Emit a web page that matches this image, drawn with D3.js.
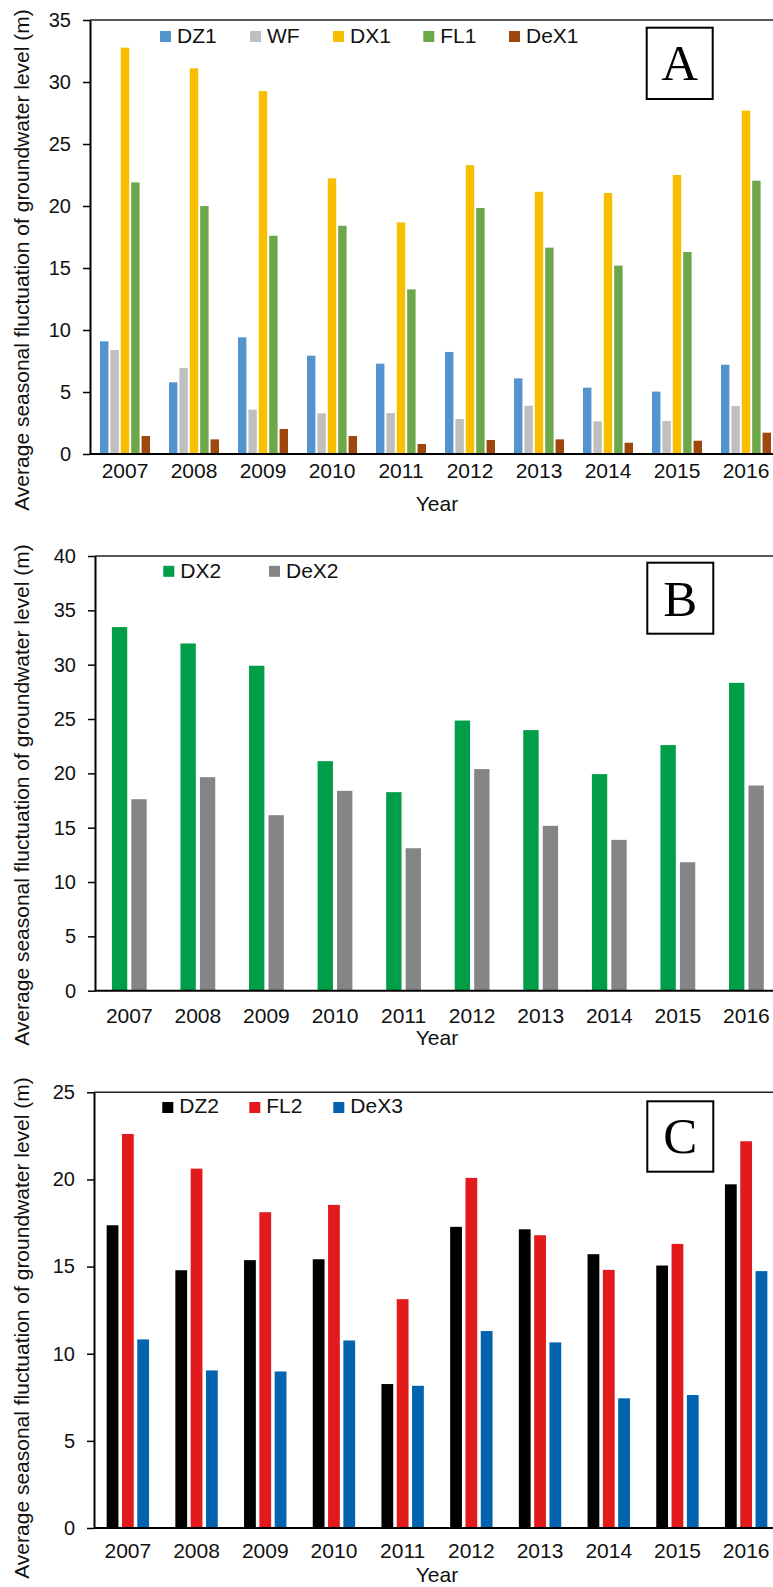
<!DOCTYPE html>
<html>
<head>
<meta charset="utf-8">
<script src="https://cdn.jsdelivr.net/npm/d3@7"></script>
<style>
  html, body { margin: 0; padding: 0; background: #fff; }
  svg { display: block; }
  text { font-family: "Liberation Sans", Arial, sans-serif; fill: #111; }
</style>
</head>
<body>
<svg id="chart" width="773" height="1587"></svg>
<script>
// ---------- DATA ----------
const years = ["2007", "2008", "2009", "2010", "2011", "2012", "2013", "2014", "2015", "2016"];

// Panel A
const seriesA = ["DZ1", "WF", "DX1", "FL1", "DeX1"];
const DZ1  = [9.09, 5.78, 9.41, 7.93, 7.28, 8.23, 6.10, 5.35, 5.03, 7.20];
const WF   = [8.39, 6.94, 3.58, 3.28, 3.30, 2.82, 3.90, 2.63, 2.66, 3.87];
const DX1  = [32.77, 31.10, 29.27, 22.23, 18.68, 23.30, 21.15, 21.05, 22.50, 27.69];
const FL1  = [21.90, 20.00, 17.60, 18.41, 13.28, 19.84, 16.64, 15.19, 16.29, 22.04];
const DeX1 = [1.45, 1.18, 2.02, 1.45, 0.81, 1.13, 1.18, 0.91, 1.07, 1.72];
const ticksA = [0, 5, 10, 15, 20, 25, 30, 35];

// Panel B
const seriesB = ["DX2", "DeX2"];
const DX2  = [33.46, 31.95, 29.90, 21.12, 18.27, 24.86, 23.98, 19.93, 22.60, 28.33];
const DeX2 = [17.62, 19.65, 16.15, 18.39, 13.11, 20.39, 15.17, 13.88, 11.82, 18.88];
const ticksB = [0, 5, 10, 15, 20, 25, 30, 35, 40];

// Panel C
const seriesC = ["DZ2", "FL2", "DeX3"];
const DZ2  = [17.37, 14.79, 15.37, 15.42, 8.26, 17.28, 17.14, 15.71, 15.06, 19.72];
const FL2  = [22.61, 20.62, 18.12, 18.54, 13.13, 20.09, 16.80, 14.81, 16.30, 22.19];
const DeX3 = [10.82, 9.04, 8.98, 10.76, 8.16, 11.30, 10.65, 7.44, 7.63, 14.74];
const ticksC = [0, 5, 10, 15, 20, 25];

const yTitle = "Average seasonal fluctuation of groundwater level (m)";
const xTitle = "Year";

// ---------- STYLE / LAYOUT ----------
const colors = {
  DZ1: "#5394CF", WF: "#BFBFBF", DX1: "#F8BE00", FL1: "#6CA849", DeX1: "#9E480E",
  DX2: "#009E48", DeX2: "#858585",
  DZ2: "#000000", FL2: "#E31A1C", DeX3: "#0463AE"
};

const panels = [
  {
    names: seriesA, values: [DZ1, WF, DX1, FL1, DeX1], ticks: ticksA, max: 35,
    top: 20, bottom: 454, axisX: 90, bandRange: [90.5, 780.5], groupW: 50, pad: 0.19,
    xLabelPad: 9.3, yearBase: 511, titleCenter: 260,
    legendY: 36.5, legendBase: 43.3, legendX: [160, 250, 333, 423.3, 509],
    box: { x: 646.7, y: 27.7, w: 66, h: 71.3, letter: "A", base: 80 }
  },
  {
    names: seriesB, values: [DX2, DeX2], ticks: ticksB, max: 40,
    top: 556, bottom: 990.7, axisX: 95, bandRange: [95, 780.7], groupW: 34.8, pad: 0.21,
    xLabelPad: 17.6, yearBase: 1045, titleCenter: 795,
    legendY: 571.3, legendBase: 578.3, legendX: [163.3, 269],
    box: { x: 647.3, y: 562.7, w: 66, h: 71, letter: "B", base: 616 }
  },
  {
    names: seriesC, values: [DZ2, FL2, DeX3], ticks: ticksC, max: 25,
    top: 1092.3, bottom: 1528, axisX: 94, bandRange: [93.5, 780.5], groupW: 42.4, pad: 0.23,
    xLabelPad: 15.3, yearBase: 1582, titleCenter: 1328,
    legendY: 1107.5, legendBase: 1113.3, legendX: [162.3, 249.3, 333.3],
    box: { x: 647.3, y: 1101.3, w: 66, h: 70.4, letter: "C", base: 1152.5 }
  }
];

const svg = d3.select("#chart");

panels.forEach(p => {
  const g = svg.append("g");
  const y = d3.scaleLinear().domain([0, p.max]).range([p.bottom, p.top]);
  const x0 = d3.scaleBand().domain(years).range(p.bandRange).paddingInner(0).paddingOuter(0);
  const x1 = d3.scaleBand().domain(p.names).range([0, p.groupW]).paddingInner(p.pad).paddingOuter(0);
  const off = (x0.bandwidth() - p.groupW) / 2;

  // top border of plot area
  g.append("line")
    .attr("x1", p.axisX).attr("x2", 800)
    .attr("y1", p.top).attr("y2", p.top)
    .attr("stroke", "#222").attr("stroke-width", 1.6);

  // bars
  p.names.forEach((name, si) => {
    g.append("g").selectAll("rect")
      .data(years.map((yr, i) => ({ yr, v: p.values[si][i] })))
      .join("rect")
      .attr("x", d => x0(d.yr) + off + x1(name))
      .attr("width", x1.bandwidth())
      .attr("y", d => y(d.v))
      .attr("height", d => y(0) - y(d.v))
      .attr("fill", colors[name]);
  });

  // y axis
  const yAxis = g.append("g")
    .attr("transform", `translate(${p.axisX},0)`)
    .call(d3.axisLeft(y).tickValues(p.ticks).tickSize(7).tickSizeOuter(0).tickPadding(12).tickFormat(d3.format("d")));
  yAxis.select(".domain").attr("stroke", "#000").attr("stroke-width", 2);
  yAxis.selectAll(".tick line").attr("stroke", "#000").attr("stroke-width", 1.5);
  yAxis.selectAll(".tick text").attr("font-size", 20).attr("fill", "#111")
    .attr("font-family", '"Liberation Sans", Arial, sans-serif');

  // x axis
  const xAxis = g.append("g")
    .attr("transform", `translate(0,${p.bottom})`)
    .call(d3.axisBottom(x0).tickSize(0).tickSizeOuter(0).tickPadding(p.xLabelPad));
  xAxis.select(".domain").attr("stroke", "#000").attr("stroke-width", 2)
    .attr("d", `M${p.axisX},0H800`);
  xAxis.selectAll(".tick text").attr("font-size", 21).attr("fill", "#111")
    .attr("font-family", '"Liberation Sans", Arial, sans-serif');

  // x title
  g.append("text")
    .attr("x", 437).attr("y", p.yearBase)
    .attr("text-anchor", "middle").attr("font-size", 21)
    .text(xTitle);

  // y title
  g.append("text")
    .attr("transform", `translate(28.5,${p.titleCenter}) rotate(-90)`)
    .attr("text-anchor", "middle").attr("font-size", 21)
    .text(yTitle);

  // legend
  p.names.forEach((name, i) => {
    g.append("rect")
      .attr("x", p.legendX[i]).attr("y", p.legendY - 5.5)
      .attr("width", 11).attr("height", 11)
      .attr("fill", colors[name]);
    g.append("text")
      .attr("x", p.legendX[i] + 17).attr("y", p.legendBase)
      .attr("font-size", 21)
      .text(name);
  });

  // panel label box
  g.append("rect")
    .attr("x", p.box.x).attr("y", p.box.y)
    .attr("width", p.box.w).attr("height", p.box.h)
    .attr("fill", "#fff").attr("stroke", "#000").attr("stroke-width", 2);
  g.append("text")
    .attr("x", p.box.x + p.box.w / 2).attr("y", p.box.base)
    .attr("text-anchor", "middle")
    .attr("font-size", 51)
    .style("font-family", '"Liberation Serif", "Times New Roman", serif')
    .style("fill", "#000")
    .text(p.box.letter);
});
</script>
</body>
</html>
